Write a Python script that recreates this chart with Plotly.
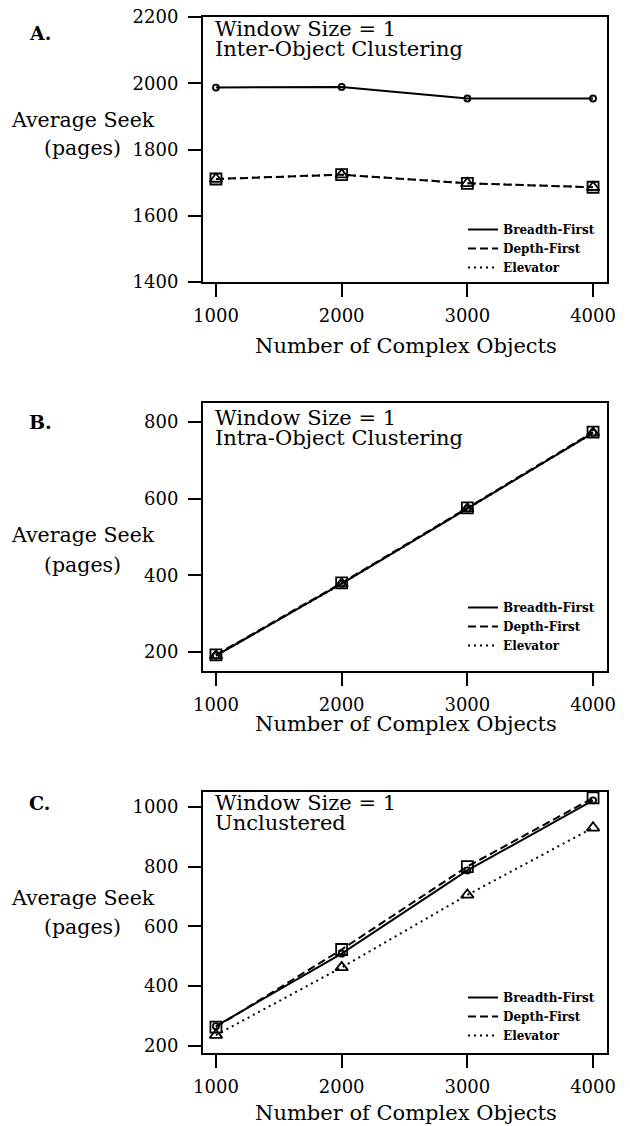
import plotly.graph_objects as go

OFF = 0
W, H = 630, 1126

# ---- data ----
objects = [1000, 2000, 3000, 4000]
series_names = ["Breadth-First", "Depth-First", "Elevator"]

a_breadth = [1987, 1989, 1954, 1954]
a_depth = [1711, 1724, 1698, 1686]
a_elev = [1711, 1724, 1698, 1686]

b_breadth = [190, 378, 574, 772]
b_depth = [192, 380, 576, 774]
b_elev = [190, 378, 574, 772]

c_breadth = [265, 508, 787, 1022]
c_depth = [262, 522, 800, 1030]
c_elev = [235, 462, 705, 930]

panel_labels = ["A.", "B.", "C."]
panel_line1 = ["Window Size = 1", "Window Size = 1", "Window Size = 1"]
panel_line2 = ["Inter-Object Clustering", "Intra-Object Clustering", "Unclustered"]
x_ticks = [1000, 2000, 3000, 4000]
y_ticks = [[1400, 1600, 1800, 2000, 2200], [200, 400, 600, 800], [200, 400, 600, 800, 1000]]
y_ranges = [[1400, 2200], [150, 850], [175, 1050]]
x_range = [897, 4111]

data = [(a_breadth, a_depth, a_elev), (b_breadth, b_depth, b_elev), (c_breadth, c_depth, c_elev)]

# ---- layout geometry (page pixels) ----
box_x = (203, 607)
box_y = [(17, 282), (403, 671), (792, 1053)]


def px(x):
    return (x - OFF) / W


def py(y):
    return 1 - (y - OFF) / H


SERIF = "DejaVu Serif"
fig = go.Figure()

styles = [
    dict(dash="solid", symbol="circle-open", size=6),
    dict(dash="8px,4px", symbol="square-open", size=11),
    dict(dash="2px,4px", symbol="triangle-up-open", size=11),
]

legend_keys = ["legend", "legend2", "legend3"]

for i, (vals, (yt, yb)) in enumerate(zip(data, box_y)):
    xa = "x" if i == 0 else f"x{i+1}"
    ya = "y" if i == 0 else f"y{i+1}"
    for name, v, st in zip(series_names, vals, styles):
        fig.add_trace(go.Scatter(
            x=objects, y=v, mode="lines+markers", name=name, showlegend=False,
            xaxis=xa, yaxis=ya,
            line=dict(color="black", width=2, dash=st["dash"]),
            marker=dict(symbol=st["symbol"], size=st["size"], color="black",
                        line=dict(color="black", width=1.8)),
        ))
        fig.add_trace(go.Scatter(
            x=[None], y=[None], mode="lines", name=name, showlegend=True,
            xaxis=xa, yaxis=ya, legend=legend_keys[i],
            line=dict(color="black", width=2, dash=st["dash"]),
        ))
    axis_common = dict(showline=True, linecolor="black", linewidth=2, mirror=True,
                       ticks="outside", ticklen=13, tickwidth=2, tickcolor="black",
                       showgrid=False, zeroline=False, automargin=False,
                       ticklabeloverflow="allow",
                       tickfont=dict(family=SERIF, size=18, color="black"))
    fig.layout[("xaxis" if i == 0 else f"xaxis{i+1}")] = dict(
        domain=[px(box_x[0]), px(box_x[1])], range=x_range, tickvals=x_ticks,
        anchor=ya, ticklabelstandoff=3, **axis_common)
    fig.layout[("yaxis" if i == 0 else f"yaxis{i+1}")] = dict(
        domain=[py(yb), py(yt)], range=y_ranges[i], tickvals=y_ticks[i],
        anchor=xa, ticklabelstandoff=6, **axis_common)

# legends
leg_tops = [215, 593, 983]
for i, key in enumerate(legend_keys):
    fig.layout[key] = dict(
        x=px(463), y=py(leg_tops[i]), xanchor="left", yanchor="top",
        xref="paper", yref="paper",
        bgcolor="rgba(0,0,0,0)", borderwidth=0, tracegroupgap=0,
        font=dict(family=SERIF, size=12, color="black", weight="bold"),
        itemwidth=30,
    )

ann = []
lab_y = [33, 422, 803]
title_y1 = [120, 535, 898]
title_y2 = [148, 565, 927]
line1_y = [29, 418, 803]
line2_y = [49, 438, 823]
xtitle_y = [346, 724, 1113]


def add(text, x, y, xanchor, size, bold=False):
    ann.append(dict(text=text, x=px(x), y=py(y), xref="paper", yref="paper",
                    xanchor=xanchor, yanchor="middle", showarrow=False,
                    font=dict(family=SERIF, size=size, color="black",
                              weight="bold" if bold else "normal")))


for i in range(3):
    add(panel_labels[i], 27, lab_y[i], "left", 19, bold=True)
    add("Average Seek", 83, title_y1[i], "center", 20.5)
    add("(pages)", 82, title_y2[i], "center", 20.5)
    add(panel_line1[i], 213, line1_y[i], "left", 21)
    add(panel_line2[i], 213, line2_y[i], "left", 21)
    add("Number of Complex Objects", 406, xtitle_y[i], "center", 21)

fig.update_layout(
    template="none",
    width=W, height=H, margin=dict(l=0, r=0, t=0, b=0, autoexpand=False),
    paper_bgcolor="white", plot_bgcolor="white",
    annotations=ann,
)

fig.write_html(
    "out.html",
    config={"displayModeBar": False},
    post_script="document.body.style.margin='0';document.body.style.overflow='hidden';",
)
